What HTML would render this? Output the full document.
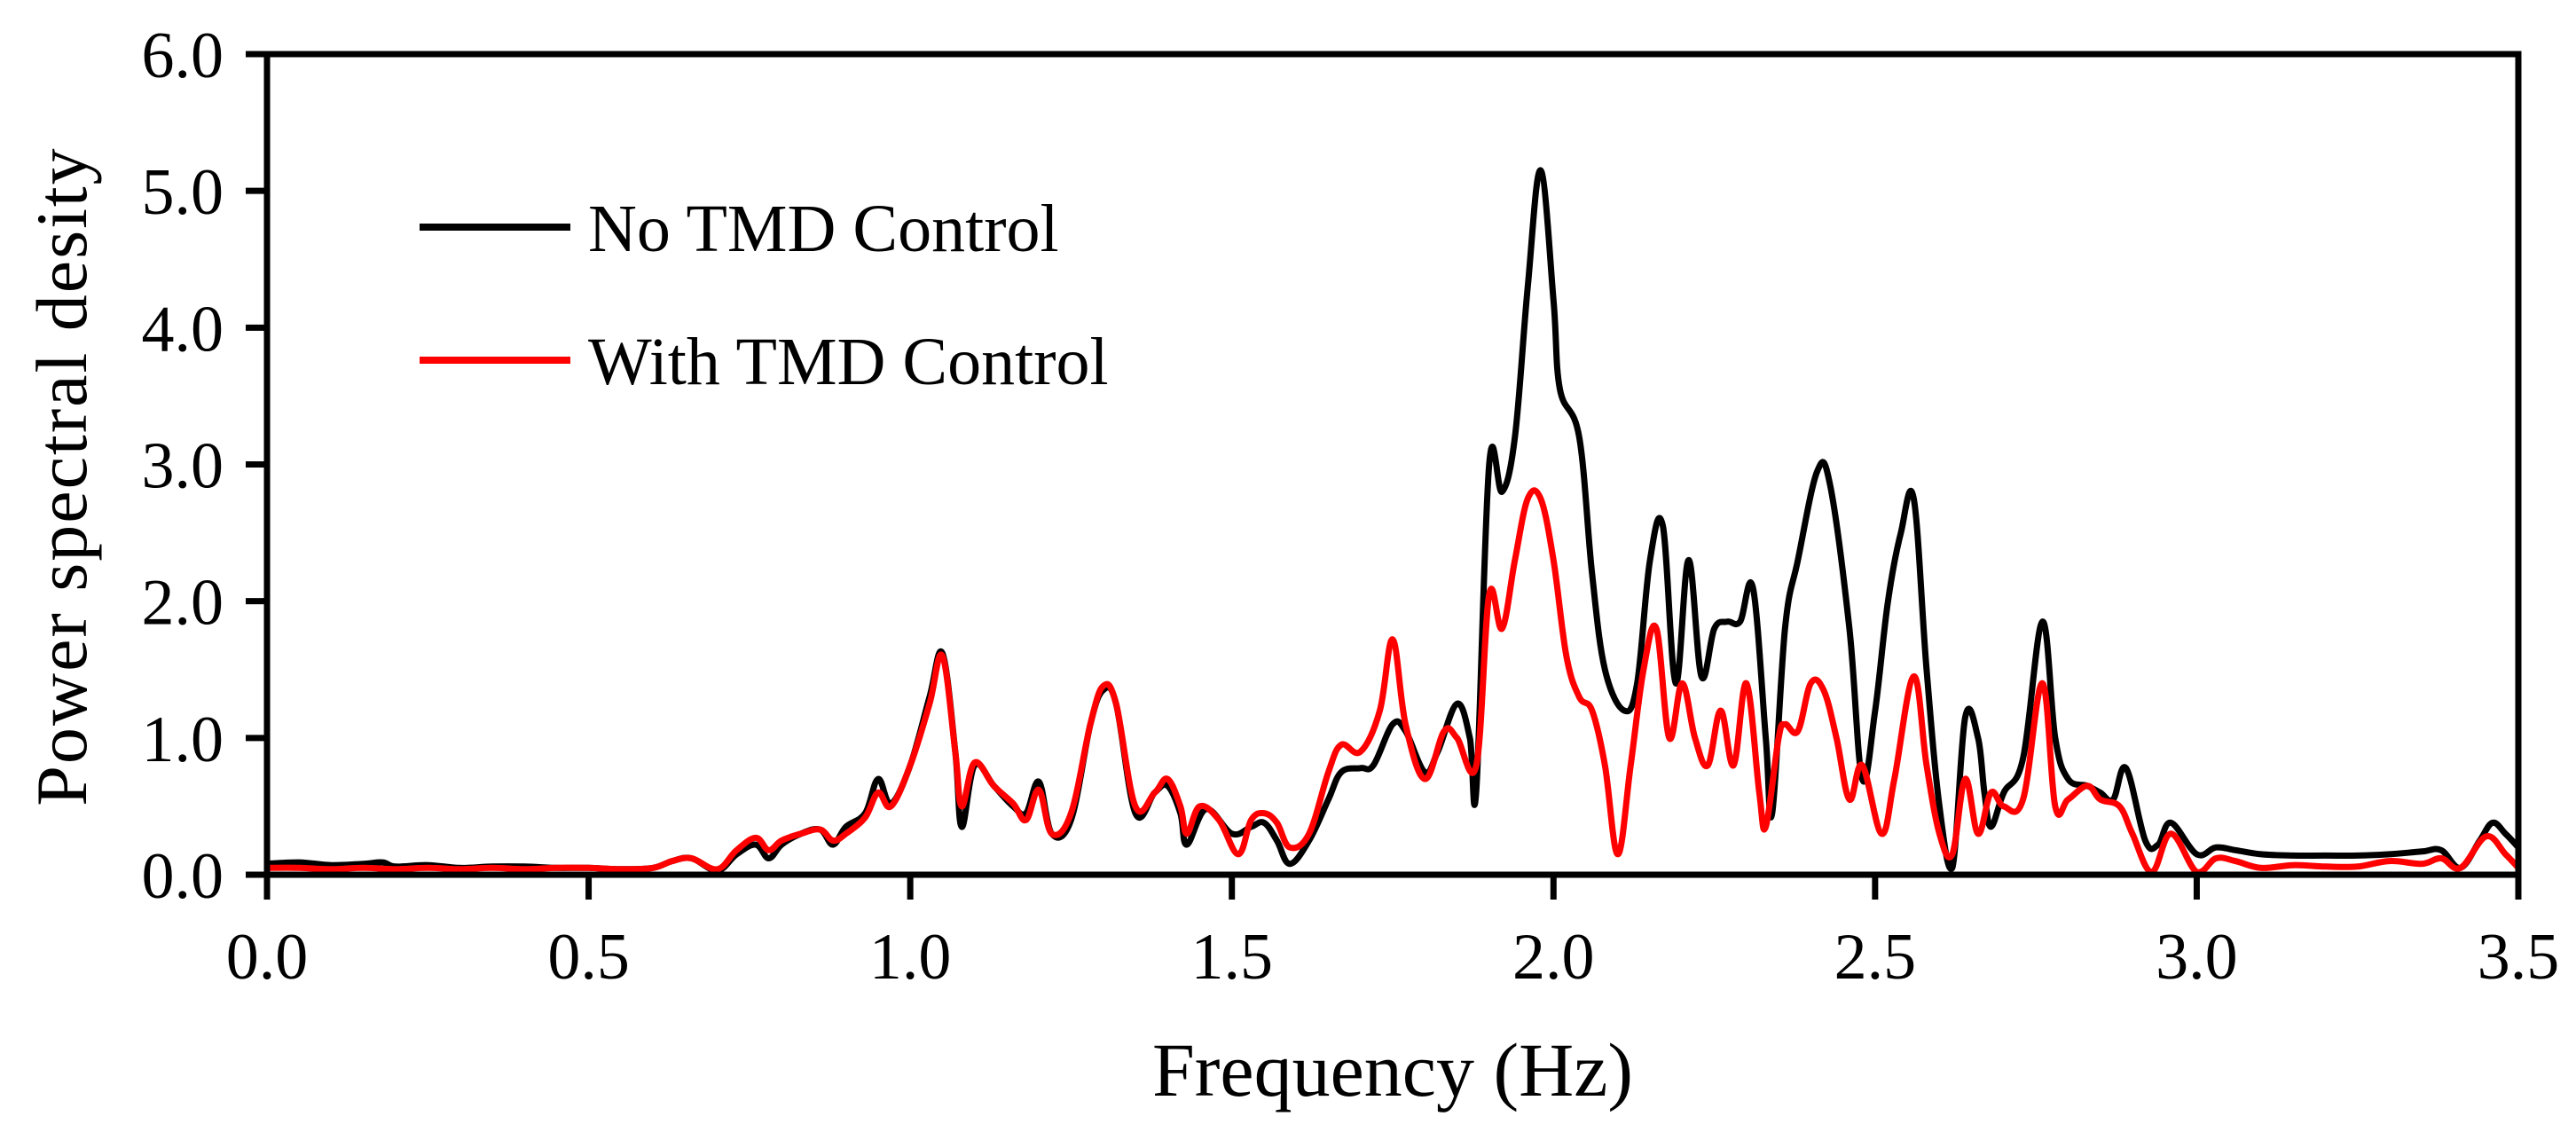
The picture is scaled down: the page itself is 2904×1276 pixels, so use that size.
<!DOCTYPE html>
<html><head><meta charset="utf-8"><style>
html,body{margin:0;padding:0;background:#fff;}
svg{display:block;font-family:"Liberation Serif",serif;}
</style></head><body>
<svg id="chart" width="2904" height="1276" viewBox="0 0 2904 1276" xmlns="http://www.w3.org/2000/svg">
<g id="plot"></g>
</svg>
<script>
const xTicks = [0.0,0.5,1.0,1.5,2.0,2.5,3.0,3.5];
const yTicks = [0.0,1.0,2.0,3.0,4.0,5.0,6.0];
const noTmdFreq = [0,0.05,0.1,0.15,0.18,0.2,0.25,0.3,0.35,0.4,0.45,0.5,0.55,0.6,0.63,0.66,0.7,0.73,0.76,0.78,0.8,0.83,0.86,0.88,0.9,0.93,0.95,0.97,1.0,1.03,1.05,1.07,1.08,1.1,1.13,1.16,1.18,1.2,1.22,1.25,1.28,1.3,1.32,1.35,1.38,1.4,1.42,1.43,1.46,1.5,1.53,1.55,1.57,1.59,1.62,1.65,1.67,1.7,1.72,1.75,1.77,1.8,1.82,1.85,1.87,1.88,1.9,1.92,1.94,1.96,1.98,2.0,2.01,2.04,2.06,2.08,2.11,2.13,2.15,2.17,2.19,2.21,2.23,2.25,2.27,2.29,2.31,2.33,2.34,2.36,2.38,2.41,2.43,2.46,2.48,2.5,2.52,2.54,2.56,2.58,2.6,2.62,2.64,2.66,2.67,2.68,2.7,2.73,2.76,2.78,2.8,2.83,2.85,2.87,2.89,2.92,2.94,2.96,3.0,3.03,3.06,3.1,3.15,3.2,3.25,3.3,3.35,3.38,3.41,3.44,3.46,3.48,3.5];
const noTmdPsd = [0.08,0.09,0.07,0.08,0.09,0.06,0.07,0.05,0.06,0.06,0.05,0.05,0.04,0.05,0.1,0.12,0.03,0.15,0.22,0.12,0.22,0.3,0.33,0.22,0.35,0.45,0.7,0.52,0.8,1.3,1.62,0.9,0.35,0.8,0.65,0.5,0.45,0.68,0.3,0.4,1.1,1.35,1.25,0.45,0.6,0.65,0.45,0.22,0.48,0.3,0.35,0.38,0.25,0.08,0.25,0.55,0.75,0.78,0.8,1.1,1.05,0.75,0.9,1.25,1.0,0.62,3.0,2.8,3.2,4.3,5.15,4.2,3.55,3.2,2.2,1.5,1.2,1.4,2.3,2.55,1.4,2.3,1.45,1.8,1.85,1.85,2.1,1.0,0.45,1.8,2.3,2.95,2.85,1.8,0.7,1.2,2.0,2.5,2.75,1.5,0.5,0.05,1.15,1.0,0.6,0.35,0.6,0.85,1.85,1.0,0.7,0.65,0.6,0.55,0.78,0.25,0.22,0.38,0.15,0.2,0.18,0.15,0.14,0.14,0.14,0.15,0.17,0.18,0.05,0.25,0.38,0.3,0.2];
const withTmdFreq = [0,0.05,0.1,0.15,0.2,0.25,0.3,0.35,0.4,0.45,0.5,0.55,0.6,0.63,0.66,0.7,0.73,0.76,0.78,0.8,0.83,0.86,0.88,0.9,0.93,0.95,0.97,1.0,1.03,1.05,1.07,1.08,1.1,1.13,1.16,1.18,1.2,1.22,1.25,1.28,1.3,1.32,1.35,1.38,1.4,1.42,1.43,1.45,1.48,1.51,1.53,1.55,1.57,1.59,1.62,1.65,1.67,1.7,1.73,1.75,1.77,1.8,1.83,1.85,1.88,1.9,1.92,1.94,1.96,1.98,2.0,2.02,2.04,2.06,2.08,2.1,2.12,2.14,2.16,2.18,2.2,2.22,2.24,2.26,2.28,2.3,2.32,2.33,2.35,2.36,2.38,2.4,2.42,2.44,2.46,2.48,2.51,2.53,2.56,2.58,2.6,2.62,2.64,2.66,2.68,2.7,2.73,2.76,2.78,2.8,2.83,2.85,2.88,2.9,2.93,2.96,3.0,3.03,3.06,3.1,3.15,3.2,3.25,3.3,3.35,3.38,3.41,3.45,3.48,3.5];
const withTmdPsd = [0.05,0.05,0.04,0.05,0.04,0.05,0.04,0.05,0.04,0.05,0.05,0.04,0.05,0.1,0.12,0.04,0.18,0.27,0.18,0.25,0.3,0.33,0.25,0.3,0.42,0.6,0.5,0.8,1.25,1.6,0.9,0.5,0.82,0.65,0.52,0.4,0.62,0.3,0.45,1.1,1.38,1.25,0.5,0.6,0.7,0.5,0.3,0.5,0.4,0.15,0.4,0.45,0.38,0.2,0.3,0.75,0.95,0.9,1.2,1.72,1.1,0.7,1.05,1.0,0.8,2.05,1.8,2.3,2.75,2.75,2.3,1.6,1.3,1.2,0.8,0.15,0.8,1.5,1.8,1.0,1.4,1.0,0.8,1.2,0.8,1.4,0.6,0.35,1.0,1.1,1.05,1.4,1.35,1.0,0.55,0.8,0.3,0.7,1.45,0.8,0.3,0.15,0.7,0.3,0.6,0.5,0.55,1.4,0.5,0.55,0.65,0.55,0.5,0.3,0.02,0.3,0.02,0.12,0.1,0.05,0.07,0.06,0.06,0.1,0.08,0.12,0.05,0.28,0.15,0.05];

const NS='http://www.w3.org/2000/svg';
const L=301,R=2839,T=61,B=986,xMin=0,xMax=3.5,yMin=0,yMax=6;
const xs=v=>L+(v-xMin)/(xMax-xMin)*(R-L);
const ys=v=>B-(v-yMin)/(yMax-yMin)*(B-T);
const plot=document.getElementById('plot');
function mk(tag,attrs,parent){const e=document.createElementNS(NS,tag);for(const k in attrs)e.setAttribute(k,attrs[k]);(parent||plot).appendChild(e);return e;}

function series(fr,vals,color,name){
  const P=fr.map((f,i)=>[xs(f),ys(vals[i])]);
  let d='M'+P[0][0].toFixed(1)+','+P[0][1].toFixed(1);
  const k=0.18;
  for(let i=0;i<P.length-1;i++){
    const p0=P[i-1]||P[i],p1=P[i],p2=P[i+1],p3=P[i+2]||P[i+1];
    const c1=[p1[0]+(p2[0]-p0[0])*k,p1[1]+(p2[1]-p0[1])*k];
    const c2=[p2[0]-(p3[0]-p1[0])*k,p2[1]-(p3[1]-p1[1])*k];
    c1[1]=Math.min(c1[1],B);c2[1]=Math.min(c2[1],B);
    d+=' C'+c1[0].toFixed(1)+','+c1[1].toFixed(1)+' '+c2[0].toFixed(1)+','+c2[1].toFixed(1)+' '+p2[0].toFixed(1)+','+p2[1].toFixed(1);
  }
  const p=mk('path',{d:d,fill:'none',stroke:color,'stroke-width':7,'stroke-linejoin':'round','stroke-linecap':'round'});
  
  
}
series(noTmdFreq,noTmdPsd,'#000','no-tmd-line');
series(withTmdFreq,withTmdPsd,'#ff0000','with-tmd-line');

const fr=mk('rect',{x:L,y:T,width:R-L,height:B-T,fill:'none',stroke:'#000','stroke-width':7});



xTicks.forEach(t=>{
  const ln=mk('line',{x1:xs(t),x2:xs(t),y1:B,y2:B+28,stroke:'#000','stroke-width':7});
  
  
  const tx=mk('text',{x:xs(t),y:1103,'text-anchor':'middle','font-size':74,fill:'#000'});
  tx.textContent=t.toFixed(1);
  
  
});
yTicks.forEach(t=>{
  const ln=mk('line',{x1:L-24,x2:L,y1:ys(t),y2:ys(t),stroke:'#000','stroke-width':7});
  
  
  const tx=mk('text',{x:252,y:ys(t)+26,'text-anchor':'end','font-size':74,fill:'#000'});
  tx.textContent=t.toFixed(1);
  
  
});

const xt=mk('text',{x:1570,y:1235,'text-anchor':'middle','font-size':86,fill:'#000'});
xt.textContent='Frequency (Hz)';


const yt=mk('text',{x:0,y:0,'text-anchor':'middle','font-size':82,fill:'#000','letter-spacing':2,transform:'translate(97,537) rotate(-90)'});
yt.textContent='Power spectral desity';



const leg=[['No TMD Control','#000',256],['With TMD Control','#ff0000',406]];
leg.forEach(([lab,c,y])=>{
  const g=mk('g',{});
  
  
  mk('line',{x1:473,x2:643,y1:y,y2:y,stroke:c,'stroke-width':8},g);
  const tx=mk('text',{x:663,y:y+27,'font-size':76,fill:'#000'},g);
  tx.textContent=lab;
});
</script>
</body></html>
